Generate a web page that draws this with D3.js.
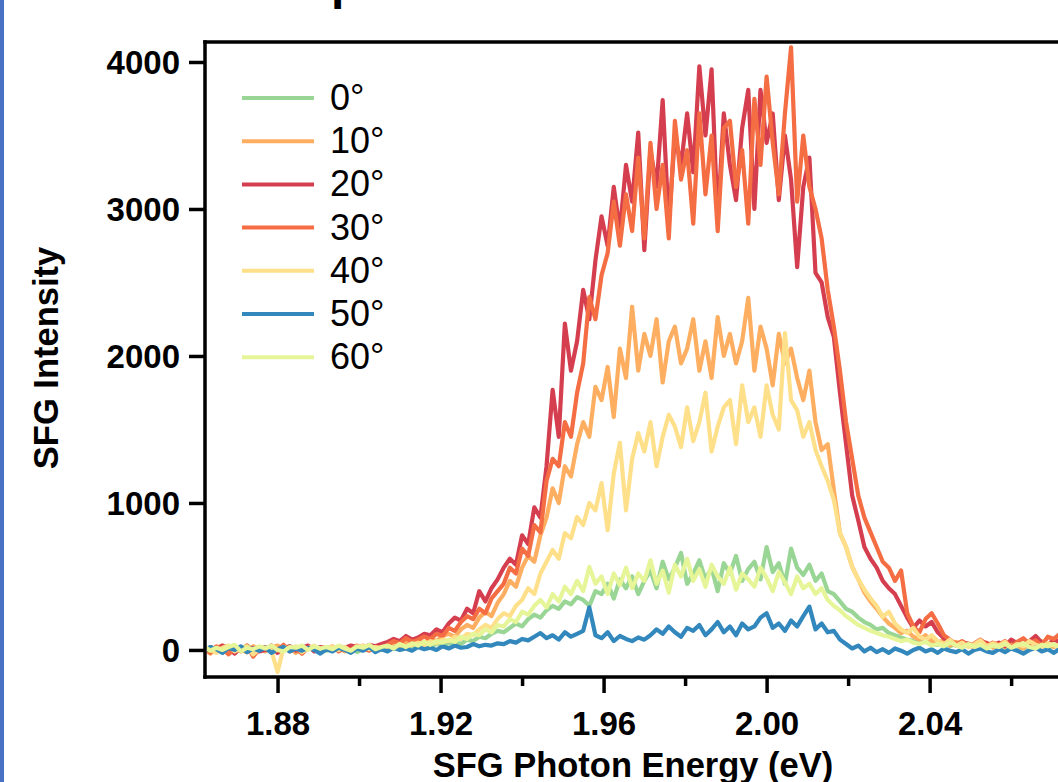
<!DOCTYPE html>
<html>
<head>
<meta charset="utf-8">
<script src="https://cdn.jsdelivr.net/npm/d3@7"></script>
<style>
  html, body { margin: 0; padding: 0; background: #fff; }
  svg { display: block; }
</style>
</head>
<body>
<div id="chart"></div>
<script>
// energy grid of the spectra (eV), one point every 1.5 meV
var eStart = 1.862, eStep = 0.0015, nPts = 141;
var energy = d3.range(nPts).map(function (i) { return +(eStart + i * eStep).toFixed(4); });

var angles = ["0°", "10°", "20°", "30°", "40°", "50°", "60°"];
var colors = ["#99d594", "#fdae61", "#d53e4f", "#f46d43", "#fee08b", "#3288bd", "#e6f598"];

// SFG intensity, one value per energy point
var deg0 = [0, 15, -10, 25, 5, -20, 10, 30, 0, -5,
  20, 5, -15, 10, 25, 0, -10, 15, 5, 20,
  -5, 10, 20, 0, 15, -15, 5, 25, 10, 0,
  15, 5, 25, 10, 30, 20, 35, 25, 40, 30,
  45, 55, 40, 70, 60, 90, 80, 110, 130, 120,
  150, 180, 160, 210, 240, 220, 270, 300, 280, 330,
  310, 360, 340, 300, 400, 380, 450, 350, 480, 420,
  500, 380, 470, 540, 420, 600, 480, 560, 660, 450,
  520, 610, 480, 560, 400, 590, 520, 640, 470, 550,
  600, 480, 700, 530, 590, 450, 690, 560, 510, 580,
  470, 520, 400, 380, 330, 280, 260, 220, 190, 170,
  140, 150, 115, 100, 85, 70, 60, 50, 70, 40,
  35, 55, 25, 45, 20, 40, 30, 10, 35, 20,
  30, 15, 40, 25, 10, 35, 20, 45, 15, 30, 25];

var deg10 = [5, -25, 15, 30, -5, 20, 0, -15, 25, 10,
  -10, 15, 30, 0, 20, -20, 10, 25, -5, 15,
  20, 0, 15, -10, 25, 10, 30, 5, 15, 35,
  20, 40, 25, 55, 35, 60, 45, 80, 60, 95,
  110, 90, 140, 170, 150, 220, 260, 230, 320, 380,
  470, 430, 560, 640, 600, 780, 900, 1100, 1000, 1250,
  1180, 1400, 1550, 1450, 1790, 1700, 1925, 1585, 2050, 1850,
  2335, 1900, 2150, 2000, 2250, 1820, 2100, 2200, 1950, 2050,
  2250, 1900, 2100, 1850, 2265, 2000, 2150, 1950, 2100, 2395,
  1900, 2200, 2050, 1800, 2150, 1950, 2050, 1850, 1700, 1900,
  1550, 1360, 1400, 1090, 795, 700, 565, 480, 390, 330,
  280, 225, 180, 150, 115, 130, 90, 70, 100, 60,
  45, 70, 30, 55, 20, 45, 10, 35, 50, 15,
  40, 20, 55, 30, 10, 45, 25, 60, 35, 20, 50];

var deg20 = [-15, 20, 0, 30, 10, -25, 20, 5, 15, -10,
  0, 30, -20, 10, 25, -5, 15, 30, -10, 20,
  10, -5, 25, 15, 30, 20, 5, 35, 25, 40,
  55, 75, 60, 95, 70, 85, 110, 100, 140, 120,
  180, 220, 200, 280, 250, 400, 330, 420, 480, 560,
  620, 580, 780, 720, 970, 900, 1250, 1770, 1450, 2220,
  1900, 2100, 2450, 2250, 2650, 2950, 2750, 3150, 2850, 3300,
  3050, 3520, 2720, 3400, 3150, 3740, 2900, 3500, 3300, 3650,
  3250, 3970, 3500, 3950, 2925, 3650, 3300, 3060, 3550, 3810,
  3000, 3810, 3450, 3650, 3060, 3500, 3200, 2605, 3150, 3350,
  2565, 2500, 2265, 2130, 1750, 1400, 1050, 880, 700, 620,
  560, 470, 420, 380, 300, 220, 150, 200, 160, 190,
  120, 80, 50, 30, 55, 40, 20, 65, 45, 30,
  50, 25, 70, 45, 30, 60, 95, 50, 35, 70, 55];

var deg30 = [10, -20, 25, 5, -30, 15, -10, 30, -45, 5,
  20, -15, 0, 35, -10, 10, -25, 15, 20, -5,
  5, 25, -10, 15, 0, 30, 10, -5, 20, 15,
  35, 60, 45, 80, 55, 70, 90, 75, 110, 95,
  150, 130, 190, 230, 210, 280, 250, 350, 400, 450,
  560, 520, 690, 640, 850, 800, 1150, 1300, 1250, 1550,
  1450, 1750, 1950, 2400, 2250, 2550, 2700, 3050, 2750, 3100,
  2850, 3350, 2800, 3450, 3000, 3300, 2800, 3600, 3200, 3400,
  2900, 3650, 3100, 3500, 2850, 3550, 3600, 3150, 3400, 2900,
  3750, 3300, 3900, 3450, 3100, 3650, 4100, 3050, 3500, 3150,
  3000, 2800, 2450, 2200, 1900, 1550, 1300, 1050, 900, 800,
  700, 600, 560, 470, 540, 250, 160, 120, 210, 250,
  180, 100, 70, 40, 60, 25, 45, 70, 30, 50,
  35, 60, 20, 55, 80, 40, 65, 30, 90, 75, 110];

var deg40 = [20, 0, -20, 15, 30, -10, 10, 25, -30, 5,
  15, -5, -150, 20, 0, 25, -15, 10, 30, -5,
  10, 25, 0, 20, -10, 15, 30, 5, 20, 10,
  25, 15, 40, 20, 35, 50, 30, 60, 45, 70,
  60, 90, 75, 110, 100, 140, 170, 150, 210, 250,
  230, 300, 340, 420, 380, 520, 600, 680, 620, 795,
  760, 905, 850, 1000, 950, 1135, 815, 1200, 1410, 950,
  1300, 1475, 1350, 1550, 1250, 1450, 1600, 1520, 1380, 1650,
  1420, 1550, 1750, 1350, 1520, 1650, 1700, 1400, 1800, 1550,
  1650, 1450, 1800, 1600, 1500, 2155, 1700, 1630, 1450, 1550,
  1360, 1250, 1150, 1020, 795, 700, 565, 480, 410, 350,
  300, 225, 260, 180, 140, 115, 150, 90, 70, 100,
  60, 40, 70, 30, 50, 20, 40, 65, 25, 45,
  30, 55, 15, 40, 25, 60, 35, 20, 45, 30, 15];

var deg50 = [-10, 20, 5, -20, 15, 0, 25, -15, 10, -5,
  15, -20, 5, 20, -10, 10, -5, 15, 0, -25,
  5, -10, 15, 0, -20, 10, -5, 20, -15, 5,
  -10, 15, 0, 10, -5, 20, 5, 15, 0, 25,
  10, 30, 15, 20, 40, 25, 35, 30, 45, 40,
  60, 50, 75, 65, 90, 115, 80, 100, 70, 120,
  90, 110, 130, 290, 100, 80, 120, 60, 95, 75,
  60, 85, 70, 100, 140, 110, 160, 120, 90, 150,
  130, 170, 100, 140, 190, 120, 160, 100, 180, 140,
  160, 220, 250, 150, 180, 130, 200, 160, 230, 295,
  140, 180, 120, 130, 70, 40, 10, 30, -10, 15,
  -15, 5, -20, 10, -5, -25, 0, 15, -10, 5,
  -20, 10, -5, -15, 5, -25, 0, 10, -10, -20,
  5, -15, 10, -5, -25, 0, 15, -10, 5, -20, 10];

var deg60 = [25, -5, 15, 0, 20, 35, -10, 15, 5, 25,
  10, 30, 0, -10, 20, 15, 30, 0, 25, 10,
  20, 5, 30, 10, -5, 25, 15, 35, 5, 20,
  30, 10, 40, 20, 45, 30, 55, 35, 60, 50,
  70, 55, 90, 75, 110, 100, 140, 120, 170, 160,
  210, 190, 260, 240, 300, 340, 290, 380, 330, 430,
  380, 470, 400, 565, 450, 500, 380, 520, 440, 560,
  420, 520, 470, 610, 450, 540, 390, 580, 500, 620,
  470, 550, 430, 580, 500, 450, 560, 410, 520, 480,
  430, 560, 490, 400, 530, 460, 380, 500, 420, 450,
  380, 420, 340, 300, 270, 230, 200, 170, 150, 130,
  115, 100, 90, 75, 60, 70, 50, 40, 55, 30,
  40, 25, 50, 30, 15, 40, 20, 35, 10, 30,
  20, 40, 15, 30, 45, 20, 10, 35, 25, 40, 20];

var series = [deg0, deg10, deg20, deg30, deg40, deg50, deg60];

var xTicks = [1.88, 1.92, 1.96, 2.00, 2.04];
var xMinor = [1.90, 1.94, 1.98, 2.02, 2.06];
var yTicks = [0, 1000, 2000, 3000, 4000];

var width = 1058, height = 782;
var plot = { left: 205, right: 1058, top: 42, bottom: 677 };
var font = "Arial, 'Liberation Sans', Helvetica, sans-serif";

var x = d3.scaleLinear()
  .domain([1.8622, 2.0715])
  .range([plot.left, plot.right]);

var y = d3.scaleLinear()
  .domain([-184, 4136])
  .range([plot.bottom, plot.top]);

var svg = d3.select("#chart")
  .append("svg")
  .attr("width", width)
  .attr("height", height)
  .style("font-family", font);

// blue edge strip on the left of the slide
svg.append("rect")
  .attr("x", 0).attr("y", 0)
  .attr("width", 4).attr("height", height)
  .attr("fill", "#4a72c4");

// what is left of the cut title
svg.append("text")
  .attr("x", 331)
  .attr("y", -1)
  .style("font-size", "48px")
  .style("font-weight", "bold")
  .text("p");

svg.append("clipPath")
  .attr("id", "plotclip")
  .append("rect")
  .attr("x", plot.left + 2)
  .attr("y", plot.top + 2)
  .attr("width", plot.right - plot.left + 20)
  .attr("height", plot.bottom - plot.top - 4);

var line = d3.line()
  .x(function (d, i) { return x(energy[i]); })
  .y(function (d) { return y(d); });

svg.append("g")
  .attr("clip-path", "url(#plotclip)")
  .selectAll("path")
  .data(series)
  .enter()
  .append("path")
  .attr("d", line)
  .style("fill", "none")
  .style("stroke", function (d, i) { return colors[i]; })
  .style("stroke-width", 4.2)
  .style("stroke-linejoin", "round");

// x axis: major ticks with labels, minor ticks without
var xAxis = svg.append("g")
  .attr("transform", "translate(0," + plot.bottom + ")")
  .call(d3.axisBottom(x).tickValues(xTicks).tickSize(16).tickFormat(d3.format(".2f")));

var xMinorAxis = svg.append("g")
  .attr("transform", "translate(0," + plot.bottom + ")")
  .call(d3.axisBottom(x).tickValues(xMinor).tickSize(9).tickFormat(""));

var yAxis = svg.append("g")
  .attr("transform", "translate(" + plot.left + ",0)")
  .call(d3.axisLeft(y).tickValues(yTicks).tickSize(16).tickFormat(d3.format("d")));

[xAxis, xMinorAxis, yAxis].forEach(function (g) {
  g.select(".domain").remove();
  g.selectAll(".tick line")
    .attr("stroke", "#000")
    .attr("stroke-width", 3.5);
  g.selectAll(".tick text")
    .attr("fill", "#000")
    .style("font-family", font)
    .style("font-size", "33px")
    .style("font-weight", "bold");
});

xAxis.selectAll(".tick text")
  .attr("y", 58)
  .attr("dy", 0);

yAxis.selectAll(".tick text")
  .attr("x", -25)
  .attr("dy", 12);

// frame: left, bottom and top spines (right side is cut off)
var spine = svg.append("g")
  .attr("stroke", "#000")
  .attr("stroke-width", 3.5)
  .attr("stroke-linecap", "square");

spine.append("line")
  .attr("x1", plot.left).attr("y1", plot.top)
  .attr("x2", plot.left).attr("y2", plot.bottom);
spine.append("line")
  .attr("x1", plot.left).attr("y1", plot.bottom)
  .attr("x2", width + 5).attr("y2", plot.bottom);
spine.append("line")
  .attr("x1", plot.left).attr("y1", plot.top)
  .attr("x2", width + 5).attr("y2", plot.top);

// axis titles
svg.append("text")
  .attr("x", 633)
  .attr("y", 777)
  .attr("text-anchor", "middle")
  .style("font-size", "34.5px")
  .style("font-weight", "bold")
  .text("SFG Photon Energy (eV)");

svg.append("text")
  .attr("transform", "translate(58,358)rotate(-90)")
  .attr("text-anchor", "middle")
  .style("font-size", "34.5px")
  .style("font-weight", "bold")
  .text("SFG Intensity");

// legend
var legend = svg.selectAll(".legend")
  .data(angles)
  .enter()
  .append("g")
  .attr("class", "legend")
  .attr("transform", function (d, i) { return "translate(242," + (98 + i * 43.2) + ")"; });

legend.append("line")
  .attr("x1", 0).attr("x2", 72)
  .attr("y1", 0).attr("y2", 0)
  .attr("stroke", function (d, i) { return colors[i]; })
  .attr("stroke-width", 4);

legend.append("text")
  .attr("x", 88)
  .attr("y", 12)
  .style("font-size", "36px")
  .text(function (d) { return d; });
</script>
</body>
</html>
